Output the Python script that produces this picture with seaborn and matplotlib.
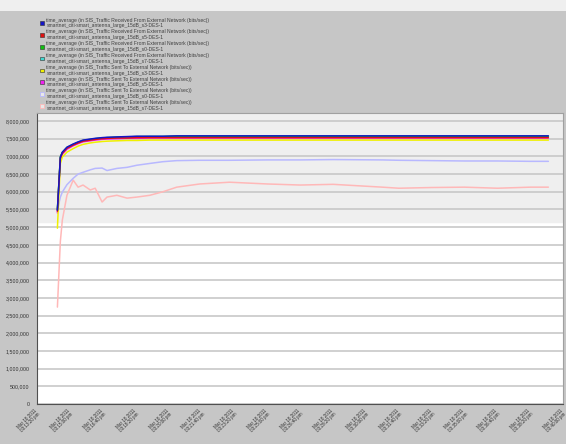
import numpy as np
import pandas as pd
import matplotlib
matplotlib.use("Agg")
import matplotlib.pyplot as plt
import matplotlib.transforms as mtransforms
from matplotlib.patches import Rectangle, Patch
from matplotlib.ticker import FuncFormatter
import seaborn as sns

# time axis in tick units (one unit = one x tick interval)
t = [0.61, 0.70, 0.76, 0.90, 1.09, 1.24, 1.39, 1.61, 1.76, 1.97, 2.12, 2.42, 2.73,
     3.03, 3.42, 3.82, 4.24, 4.94, 5.85, 7.0, 8.0, 9.0, 10.5, 11.0, 12.0, 13.0,
     14.0, 15.0, 15.55]

# values in millions of bits/sec
recv_s3 = [5.48, 6.98, 7.12, 7.26, 7.35, 7.41, 7.46, 7.49, 7.51, 7.53, 7.54, 7.55, 7.56,
           7.57, 7.57, 7.57, 7.58, 7.58, 7.58, 7.58, 7.58, 7.58, 7.58, 7.58, 7.58, 7.58,
           7.58, 7.58, 7.58]
recv_s5 = [5.45, 6.95, 7.09, 7.23, 7.32, 7.38, 7.43, 7.46, 7.48, 7.50, 7.51, 7.52, 7.52,
           7.53, 7.53, 7.53, 7.53, 7.53, 7.53, 7.53, 7.53, 7.53, 7.53, 7.53, 7.53, 7.53,
           7.53, 7.53, 7.53]
recv_s0 = [5.50, 6.99, 7.11, 7.25, 7.34, 7.40, 7.45, 7.48, 7.50, 7.52, 7.53, 7.54, 7.55,
           7.56, 7.56, 7.56, 7.57, 7.57, 7.57, 7.57, 7.57, 7.57, 7.57, 7.57, 7.57, 7.57,
           7.57, 7.57, 7.57]
recv_s7 = [5.49, 6.97, 7.10, 7.24, 7.33, 7.39, 7.44, 7.47, 7.50, 7.51, 7.52, 7.54, 7.55,
           7.55, 7.56, 7.56, 7.56, 7.56, 7.56, 7.56, 7.56, 7.56, 7.56, 7.56, 7.56, 7.56,
           7.56, 7.56, 7.56]
sent_s3 = [4.97, 6.80, 6.98, 7.12, 7.22, 7.29, 7.34, 7.38, 7.40, 7.42, 7.43, 7.44, 7.45,
           7.45, 7.46, 7.46, 7.46, 7.46, 7.46, 7.46, 7.46, 7.46, 7.46, 7.46, 7.46, 7.46,
           7.46, 7.46, 7.46]
sent_s5 = [5.40, 6.92, 7.06, 7.20, 7.30, 7.36, 7.41, 7.44, 7.46, 7.48, 7.49, 7.50, 7.51,
           7.51, 7.52, 7.52, 7.52, 7.52, 7.52, 7.52, 7.52, 7.52, 7.52, 7.52, 7.52, 7.52,
           7.52, 7.52, 7.52]
sent_s0 = [5.48, 5.85, 5.99, 6.20, 6.38, 6.50, 6.55, 6.62, 6.66, 6.67, 6.60, 6.66, 6.69,
           6.75, 6.80, 6.85, 6.88, 6.89, 6.89, 6.90, 6.90, 6.91, 6.90, 6.89, 6.88, 6.87,
           6.87, 6.86, 6.86]
sent_s7 = [2.74, 4.60, 5.20, 5.90, 6.33, 6.13, 6.19, 6.05, 6.10, 5.71, 5.85, 5.90, 5.82,
           5.85, 5.90, 6.00, 6.13, 6.22, 6.27, 6.22, 6.19, 6.21, 6.13, 6.10, 6.12, 6.13,
           6.10, 6.13, 6.13]

tick_labels = ["Mar 18 2011\n03:%02d:%02d pm" % divmod(13 * 60 + 20 + 100 * k, 60)
               for k in range(17)]

names = [
    "time_average (in SIS_Traffic Received From External Network (bits/sec))\nsmartnet_citi-smart_antenna_large_15dB_s3-DES-1",
    "time_average (in SIS_Traffic Received From External Network (bits/sec))\nsmartnet_citi-smart_antenna_large_15dB_s5-DES-1",
    "time_average (in SIS_Traffic Received From External Network (bits/sec))\nsmartnet_citi-smart_antenna_large_15dB_s0-DES-1",
    "time_average (in SIS_Traffic Received From External Network (bits/sec))\nsmartnet_citi-smart_antenna_large_15dB_s7-DES-1",
    "time_average (in SIS_Traffic Sent To External Network (bits/sec))\nsmartnet_citi-smart_antenna_large_15dB_s3-DES-1",
    "time_average (in SIS_Traffic Sent To External Network (bits/sec))\nsmartnet_citi-smart_antenna_large_15dB_s5-DES-1",
    "time_average (in SIS_Traffic Sent To External Network (bits/sec))\nsmartnet_citi-smart_antenna_large_15dB_s0-DES-1",
    "time_average (in SIS_Traffic Sent To External Network (bits/sec))\nsmartnet_citi-smart_antenna_large_15dB_s7-DES-1",
]
colors = ["#1414c8", "#e01010", "#10c010", "#40d8d0", "#f0f000", "#f020f0", "#b8b8ff", "#ffb8b8"]
series = [recv_s3, recv_s5, recv_s0, recv_s7, sent_s3, sent_s5, sent_s0, sent_s7]

df = pd.concat([pd.DataFrame({"t": t, "value": np.array(v) * 1e6, "series": n})
                for n, v in zip(names, series)], ignore_index=True)

sns.set_style("white")
plt.rcParams["font.family"] = ["Liberation Sans", "DejaVu Sans"]

fig = plt.figure(figsize=(5.66, 4.44), dpi=100, facecolor="#c6c6c6")
fig.patches.append(Rectangle((0, 0.975), 1, 0.025, transform=fig.transFigure,
                             facecolor="#efefef", edgecolor="none", zorder=0))
ax = fig.add_axes([0.066, 0.09, 0.929, 0.655])
ax.set_facecolor("white")
ax.axhspan(5.15e6, 8.3e6, color="#efefef", zorder=0)

# draw blue last so it sits on top
order = names[::-1]
sns.lineplot(data=df, x="t", y="value", hue="series", hue_order=order,
             palette=dict(zip(names, colors)), legend=False, linewidth=1.1,
             estimator=None, sort=False, ax=ax)

ax.set_xlim(0, 16)
ax.set_ylim(0, 8.22e6)
ax.set_yticks(np.arange(0, 8.0e6 + 1, 5e5))
ax.yaxis.set_major_formatter(FuncFormatter(lambda v, p: f"{int(v):,}"))
ax.set_xticks(range(17))
ax.set_xticklabels([""] * 17)

# rotated date labels, nudged left of each tick like the original
base = mtransforms.blended_transform_factory(ax.transData, ax.transAxes)
shift = mtransforms.ScaledTranslation(-3 / 100, -4 / 100, fig.dpi_scale_trans)
for k, lab in enumerate(tick_labels):
    ax.text(k, 0, lab, transform=base + shift, rotation=45, ha="right", va="top",
            rotation_mode="anchor", fontsize=3.3, color="#303030", linespacing=1.0,
            clip_on=False)

ax.tick_params(axis="y", labelsize=3.8, colors="#303030", length=2, width=0.5)
ax.tick_params(axis="x", length=2, width=0.5, pad=2)
ax.grid(axis="y", color="#c8c8c8", linewidth=1.2)
ax.set_axisbelow(True)
ax.set_xlabel("")
ax.set_ylabel("")
for s in ["left", "bottom"]:
    ax.spines[s].set_color("#505050")
    ax.spines[s].set_linewidth(0.8)
for s in ["top", "right"]:
    ax.spines[s].set_color("#a0a0a0")
    ax.spines[s].set_linewidth(0.8)

handles = []
for i, c in enumerate(colors):
    if i < 6:
        handles.append(Patch(facecolor=c, edgecolor="#303030", linewidth=0.4))
    else:
        handles.append(Patch(facecolor="#e8e8e8", edgecolor=c, linewidth=0.6))
fig.legend(handles, names, loc="upper left", bbox_to_anchor=(0.068, 0.965),
           fontsize=3.6, frameon=False, handlelength=0.7, handleheight=0.7,
           handletextpad=0.5, labelspacing=0.2, labelcolor="#404040", borderaxespad=0)

fig.savefig("out.png", dpi=100, facecolor=fig.get_facecolor())
